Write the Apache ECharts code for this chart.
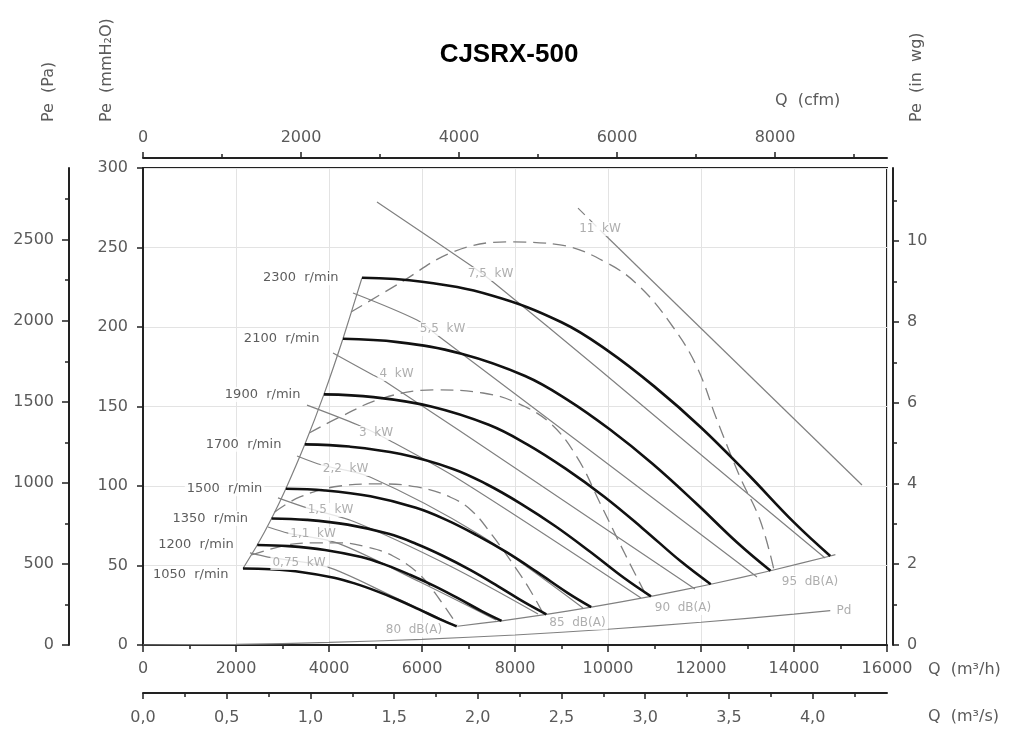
<!DOCTYPE html>
<html><head><meta charset="utf-8">
<script src="https://cdn.jsdelivr.net/npm/echarts@6/dist/echarts.min.js"></script>
<style>html,body{margin:0;padding:0;background:#fff}#c{width:1019px;height:733px}</style>
</head><body><div id="c"></div>
<script>
// ---------- DATA (Q in m3/h, Pe in mmH2O) ----------
const rpmList = [1050, 1200, 1350, 1500, 1700, 1900, 2100, 2300];

const q1050 = [2150, 2739, 3424, 4109, 4565, 5022, 5478, 5935, 6391, 6747];
const p1050 = [48.1, 47.6, 45.8, 42.3, 38.6, 33.9, 28.5, 22.4, 16.1, 11.7];
const q1200 = [2457, 3130, 3913, 4696, 5217, 5739, 6261, 6783, 7304, 7711];
const p1200 = [62.9, 62.2, 59.8, 55.3, 50.4, 44.2, 37.2, 29.3, 21.0, 15.2];
const q1350 = [2765, 3522, 4402, 5283, 5870, 6457, 7044, 7630, 8217, 8675];
const p1350 = [79.6, 78.7, 75.7, 69.9, 63.7, 56.0, 47.1, 37.1, 26.6, 19.3];
const q1500 = [3072, 3913, 4891, 5870, 6522, 7174, 7826, 8478, 9130, 9639];
const p1500 = [98.3, 97.2, 93.5, 86.3, 78.7, 69.1, 58.2, 45.8, 32.8, 23.8];
const q1700 = [3481, 4435, 5543, 6652, 7391, 8130, 8870, 9609, 10348, 10924];
const p1700 = [126.2, 124.8, 120.1, 110.9, 101.1, 88.8, 74.7, 58.8, 42.1, 30.6];
const q1900 = [3891, 4957, 6196, 7435, 8261, 9087, 9913, 10739, 11565, 12210];
const p1900 = [157.6, 155.9, 150.0, 138.5, 126.2, 110.9, 93.4, 73.5, 52.6, 38.2];
const q2100 = [4300, 5478, 6848, 8217, 9130, 10043, 10957, 11870, 12783, 13495];
const p2100 = [192.6, 190.5, 183.2, 169.2, 154.2, 135.5, 114.0, 89.8, 64.3, 46.7];
const q2300 = [4710, 6000, 7500, 9000, 10000, 11000, 12000, 13000, 14000, 14780];
const p2300 = [231, 228.5, 219.8, 203, 185, 162.5, 136.8, 107.7, 77.1, 56];

// operating limit line (end of curves)
const endQ = [6760, 7711, 8675, 9639, 10924, 12210, 13495, 14780, 14890];
const endP = [11.8, 15.2, 19.3, 23.8, 30.6, 38.2, 46.7, 56.0, 56.8];

// dynamic pressure
const pdQ = [0, 2000, 4000, 6000, 8000, 10000, 12000, 14000, 14780];
const pdP = [0, 0.4, 1.6, 3.6, 6.3, 9.9, 14.3, 19.4, 21.6];

// motor power lines
const kw075Q = [2301, 2688, 3957, 5312, 6700];
const kw075P = [57.9, 55.3, 49.1, 31.4, 12.4];
const kw110Q = [2688, 3118, 4172, 5957, 7591];
const kw110P = [74.2, 70.4, 64.2, 39.6, 15.7];
const kw150Q = [2903, 3527, 4559, 6602, 8495];
const kw150P = [92.5, 86.2, 77.4, 49.7, 19.5];
const kw220Q = [3312, 3849, 4882, 7247, 9462];
const kw220P = [118.9, 113.2, 105.7, 69.2, 23.3];
const kw300Q = [3527, 4624, 5204, 6817, 10710];
const kw300P = [150.9, 138.4, 130.2, 103.8, 29.6];
const kw400Q = [4086, 4946, 5161, 8387, 11871];
const kw400P = [183.6, 169.8, 166.7, 103.8, 35.2];
const kw550Q = [4516, 5892, 6323, 9828, 13204];
const kw550P = [221.4, 204.4, 195.0, 117.6, 42.8];
const kw750Q = [5032, 7097, 7527, 9828, 12237, 14667];
const kw750P = [278.6, 237.7, 228.3, 173.0, 113.8, 54.7];
const kw1100DashQ = [9355, 9828];
const kw1100DashP = [274.8, 261.0];
const kw1100Q = [9828, 15462];
const kw1100P = [261.0, 100.6];

// iso sound level curves (dashed)
const db80Q = [2331, 3097, 3656, 4237, 4817, 5376, 5957, 6387, 6753];
const db80P = [56.6, 62.9, 64.2, 64.2, 61.6, 56.0, 44.0, 28.3, 12.6];
const db85Q = [2833, 3376, 4237, 5097, 5892, 6602, 7075, 7505, 8000, 8323, 8620];
const db85P = [83.6, 93.1, 100, 101.3, 99.4, 93.1, 84.3, 69.2, 49.1, 34.6, 19.0];
const db90Q = [3574, 4237, 5161, 6237, 7312, 8043, 8753, 9333, 9828, 10366, 10839];
const db90P = [133.3, 143.4, 155.3, 160.4, 158.5, 152.2, 139.6, 118.2, 89.3, 57.2, 30.2];
const db95Q = [4473, 5527, 6667, 7828, 8968, 9978, 10688, 11398, 11914, 12344, 12839, 13269, 13570];
const db95P = [209.4, 227.7, 247.2, 253.5, 251.6, 240.3, 225.2, 200, 174.8, 141.5, 105.7, 78.6, 47.2];

// annotation texts and anchors
const kwLabelText = ['0,75  kW', '1,1  kW', '1,5  kW', '2,2  kW', '3  kW', '4  kW', '5,5  kW', '7,5  kW', '11  kW'];
const kwLabelQ = [3355, 3656, 4032, 4355, 5011, 5452, 6441, 7473, 9828];
const kwLabelP = [51.6, 69.8, 84.9, 110.7, 133.3, 170.4, 198.7, 233.3, 261.6];
const dbLabelText = ['80  dB(A)', '85  dB(A)', '90  dB(A)', '95  dB(A)', 'Pd'];
const dbLabelQ = [5828, 9344, 11613, 14344, 15075];
const dbLabelP = [9.4, 14.0, 23.3, 39.6, 21.4];

// axis ticks
const qTicksMax = 16000, peTicksMax = 300;
const cfmMajor = [0, 2000, 4000, 6000, 8000];
const cfmMinor = [1000, 3000, 5000, 7000, 9000];
const m3sMajor = [0, 0.5, 1.0, 1.5, 2.0, 2.5, 3.0, 3.5, 4.0];
const m3sMinor = [0.25, 0.75, 1.25, 1.75, 2.25, 2.75, 3.25, 3.75, 4.25];
const paMajor = [0, 500, 1000, 1500, 2000, 2500];
const paMinor = [250, 750, 1250, 1750, 2250, 2750];
const inwgMajor = [0, 2, 4, 6, 8, 10];
const inwgMinor = [1, 3, 5, 7, 9, 11];

// ---------- BUILD ----------
const FONT = 'DejaVu Sans';
const AX = '#222';
const TXT = '#5a5a5a';
const GRAY = '#808080';
const pts = (q, p) => q.map((v, i) => [v, p[i]]);

const curvesQ = [q1050, q1200, q1350, q1500, q1700, q1900, q2100, q2300];
const curvesP = [p1050, p1200, p1350, p1500, p1700, p1900, p2100, p2300];

const series = [];
function thinLine(q, p, extra) {
  series.push(Object.assign({
    type: 'line', data: pts(q, p), symbol: 'none', smooth: 0.3,
    lineStyle: { color: GRAY, width: 1.2 }, z: 2, silent: true
  }, extra || {}));
}
[[kw075Q, kw075P], [kw110Q, kw110P], [kw150Q, kw150P], [kw220Q, kw220P], [kw300Q, kw300P],
 [kw400Q, kw400P], [kw550Q, kw550P], [kw750Q, kw750P], [kw1100Q, kw1100P]].forEach(a => thinLine(a[0], a[1]));
thinLine(kw1100DashQ, kw1100DashP, { lineStyle: { color: GRAY, width: 1.2, type: [10, 6] } });
[[db80Q, db80P], [db85Q, db85P], [db90Q, db90P], [db95Q, db95P]].forEach(a =>
  thinLine(a[0], a[1], { smooth: 0.4, lineStyle: { color: GRAY, width: 1.3, type: [13, 7] } }));
thinLine(endQ, endP, { smooth: 0.2 });
thinLine(pdQ, pdP, { smooth: 0.3 });
// boundary through curve starts
thinLine(curvesQ.map(a => a[0]), curvesP.map(a => a[0]), { smooth: 0.2 });

curvesQ.forEach((q, i) => {
  series.push({
    type: 'line', data: pts(q, curvesP[i]), symbol: 'none', smooth: 0.4,
    lineStyle: { color: '#111', width: 2.6 }, z: 4, silent: true
  });
});

const lbl = (color, size) => ({
  show: true, position: 'inside', formatter: '{b}', fontFamily: FONT, fontSize: size,
  color: color, backgroundColor: '#fff', padding: [1, 2]
});
series.push({
  type: 'scatter', symbolSize: 1, itemStyle: { color: 'rgba(0,0,0,0)' }, z: 10, silent: true,
  label: lbl('#9a9a9a', 12),
  data: kwLabelText.map((t, i) => ({ name: t, value: [kwLabelQ[i], kwLabelP[i]] }))
    .concat(dbLabelText.map((t, i) => ({ name: t, value: [dbLabelQ[i], dbLabelP[i]] })))
});
series.push({
  type: 'scatter', symbolSize: 1, itemStyle: { color: 'rgba(0,0,0,0)' }, z: 10, silent: true,
  label: Object.assign(lbl('#333', 13), { position: 'left', distance: 21 }),
  data: rpmList.map((r, i) => ({
    name: r + '  r/min', value: [curvesQ[i][0], curvesP[i][0]],
    label: r === 1050 ? { distance: 12, offset: [0, 6] } : {}
  }))
});

const plain = v => String(v);
const labelStyle = { fontFamily: FONT, fontSize: 16, color: TXT, formatter: plain };
const comma = v => v.toFixed(1).replace('.', ',');

const xAxis = [
  { type: 'value', position: 'bottom', min: 0, max: qTicksMax, interval: 2000,
    axisLine: { show: true, onZero: false, lineStyle: { color: AX, width: 2 } },
    axisTick: { show: true, length: 7, lineStyle: { color: AX, width: 1.5 } },
    minorTick: { show: true, splitNumber: 2, length: 4, lineStyle: { color: AX, width: 1.5 } },
    axisLabel: Object.assign({ margin: 16 }, labelStyle),
    splitLine: { show: true, lineStyle: { color: '#e3e3e3', width: 1 } } },
  { type: 'value', position: 'top', offset: 10, min: 0, max: qTicksMax / 1.699011,
    axisLine: { show: true, onZero: false, lineStyle: { color: AX, width: 2 } },
    axisTick: { show: true, length: 6, customValues: cfmMajor, lineStyle: { color: AX, width: 1.5 } },
    axisLabel: Object.assign({ margin: 12, customValues: cfmMajor }, labelStyle),
    splitLine: { show: false } },
  { type: 'value', position: 'top', offset: 10, min: 0, max: qTicksMax / 1.699011,
    axisLine: { show: false, onZero: false },
    axisTick: { show: true, length: 4, customValues: cfmMinor, lineStyle: { color: AX, width: 1.5 } },
    axisLabel: { show: false }, splitLine: { show: false } },
  { type: 'value', position: 'bottom', offset: 48, min: 0, max: qTicksMax / 3600,
    axisLine: { show: true, onZero: false, lineStyle: { color: AX, width: 2 } },
    axisTick: { show: true, length: 6, customValues: m3sMajor, lineStyle: { color: AX, width: 1.5 } },
    axisLabel: Object.assign({}, labelStyle, { margin: 17, customValues: m3sMajor, formatter: comma }),
    splitLine: { show: false } },
  { type: 'value', position: 'bottom', offset: 48, min: 0, max: qTicksMax / 3600,
    axisLine: { show: false, onZero: false },
    axisTick: { show: true, length: 4, customValues: m3sMinor, lineStyle: { color: AX, width: 1.5 } },
    axisLabel: { show: false }, splitLine: { show: false } }
];
const yAxis = [
  { type: 'value', position: 'left', min: 0, max: peTicksMax, interval: 50,
    axisLine: { show: true, onZero: false, lineStyle: { color: AX, width: 2 } },
    axisTick: { show: true, length: 6, lineStyle: { color: AX, width: 1.5 } },
    axisLabel: Object.assign({ margin: 15 }, labelStyle),
    splitLine: { show: true, lineStyle: { color: '#e3e3e3', width: 1 } } },
  { type: 'value', position: 'left', offset: 74, min: 0, max: peTicksMax * 9.80665,
    axisLine: { show: true, onZero: false, lineStyle: { color: AX, width: 2 } },
    axisTick: { show: true, length: 7, customValues: paMajor, lineStyle: { color: AX, width: 1.5 } },
    axisLabel: Object.assign({ margin: 15, customValues: paMajor }, labelStyle),
    splitLine: { show: false } },
  { type: 'value', position: 'left', offset: 74, min: 0, max: peTicksMax * 9.80665,
    axisLine: { show: false, onZero: false },
    axisTick: { show: true, length: 4, customValues: paMinor, lineStyle: { color: AX, width: 1.5 } },
    axisLabel: { show: false }, splitLine: { show: false } },
  { type: 'value', position: 'right', offset: 6, min: 0, max: peTicksMax / 25.4,
    axisLine: { show: true, onZero: false, lineStyle: { color: AX, width: 2 } },
    axisTick: { show: true, length: 6, customValues: inwgMajor, lineStyle: { color: AX, width: 1.5 } },
    axisLabel: Object.assign({ margin: 14, customValues: inwgMajor }, labelStyle),
    splitLine: { show: false } },
  { type: 'value', position: 'right', offset: 6, min: 0, max: peTicksMax / 25.4,
    axisLine: { show: false, onZero: false },
    axisTick: { show: true, length: 4, customValues: inwgMinor, lineStyle: { color: AX, width: 1.5 } },
    axisLabel: { show: false }, splitLine: { show: false } }
];

const txt = (x, y, text, extra) => Object.assign({
  type: 'text', x: x, y: y, silent: true,
  style: Object.assign({ text: text, fontFamily: FONT, fontSize: 16, fill: TXT, align: 'left', verticalAlign: 'middle' }, (extra && extra.style) || {})
}, extra && extra.rotation ? { rotation: extra.rotation } : {});

const graphic = [
  { type: 'text', x: 509, y: 55, silent: true,
    style: { text: 'CJSRX-500', fontFamily: 'Liberation Sans', fontWeight: 'bold', fontSize: 26, fill: '#000', align: 'center', verticalAlign: 'middle' } },
  txt(49, 122, 'Pe  (Pa)', { rotation: Math.PI / 2 }),
  txt(107, 122, 'Pe  (mmH\u2082O)', { rotation: Math.PI / 2 }),
  txt(917, 122, 'Pe  (in  wg)', { rotation: Math.PI / 2 }),
  txt(775, 101, 'Q  (cfm)'),
  txt(928, 670, 'Q  (m\u00b3/h)'),
  txt(928, 717, 'Q  (m\u00b3/s)')
];

const chart = echarts.init(document.getElementById('c'), null, { renderer: 'canvas' });
chart.setOption({
  animation: false,
  backgroundColor: '#fff',
  grid: { left: 143, right: 132, top: 168, bottom: 88, show: true, borderColor: AX, borderWidth: 2, backgroundColor: 'transparent' },
  xAxis: xAxis,
  yAxis: yAxis,
  series: series,
  graphic: graphic
});
</script>
</body></html>
